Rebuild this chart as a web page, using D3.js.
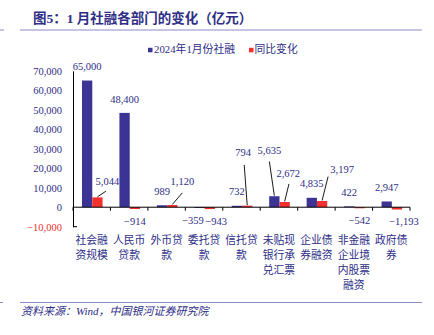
<!DOCTYPE html>
<html>
<head>
<meta charset="utf-8">
<script src="https://cdn.jsdelivr.net/npm/d3@7/dist/d3.min.js"></script>
<style>
  html, body { margin: 0; padding: 0; background: #ffffff; }
  svg { display: block; }
</style>
</head>
<body>
<svg id="chart" width="434" height="335"></svg>
<script>
// Categories (multi-line labels) and the two series, in 亿元
const categories = [
  ["社会融", "资规模"],
  ["人民币", "贷款"],
  ["外币贷", "款"],
  ["委托贷", "款"],
  ["信托贷", "款"],
  ["未贴现", "银行承", "兑汇票"],
  ["企业债", "券融资"],
  ["非金融", "企业境", "内股票", "融资"],
  ["政府债", "券"]
];
const jan2024 = [65000, 48400, 989, -359, 732, 5635, 4835, 422, 2947];
const yoyChange = [5044, -914, 1120, -943, 794, 2672, 3197, -542, -1193];
const seriesNames = ["2024年1月份社融", "同比变化"];
const yTicks = [-10000, 0, 10000, 20000, 30000, 40000, 50000, 60000, 70000];

// Label nudges (dx, dy) and leader-line starts for crowded value labels
const blueLabelShift = [
  null, null, null,
  { dx: -6.5, dy: 0 },
  null,
  { dx: -5, dy: -32, lead: [0, 10] },
  null, null, null
];
const redLabelShift = [
  { dx: 10, dy: -2, lead: [-1.5, 8.5] },
  null,
  { dx: 10, dy: -9.5, lead: [0, 10] },
  { dx: 6.5, dy: 0 },
  { dx: -4, dy: -39, lead: [1, 11] },
  { dx: 3.6, dy: -14.4, lead: [0.7, 9] },
  { dx: 20, dy: -17.4, lead: [-14, 5.7] },
  null,
  { dx: 7, dy: 0 }
];

const NAVY = "#2e2e86";
const BLUE = "#3b3494";
const RED = "#f2302e";
const RULE = "#8c8cc8";
const SERIF = "'Liberation Serif','Times New Roman','Noto Sans CJK SC',serif";
const CJK = "'Liberation Serif','Noto Sans CJK SC',sans-serif";

const svg = d3.select("#chart");

// Title and rules
svg.append("text")
  .attr("x", 33).attr("y", 20)
  .attr("dominant-baseline", "middle")
  .attr("font-family", CJK).attr("font-size", 13.5).attr("font-weight", "bold")
  .attr("fill", NAVY)
  .text("图5：1 月社融各部门的变化（亿元）");
svg.append("line").attr("x1", 20).attr("x2", 422).attr("y1", 30).attr("y2", 30)
  .attr("stroke", RULE).attr("stroke-width", 1);
svg.append("line").attr("x1", 0).attr("x2", 4).attr("y1", 30).attr("y2", 30)
  .attr("stroke", RULE).attr("stroke-width", 1);
svg.append("line").attr("x1", 20).attr("x2", 422).attr("y1", 302.5).attr("y2", 302.5)
  .attr("stroke", RULE).attr("stroke-width", 1);
svg.append("line").attr("x1", 0).attr("x2", 3).attr("y1", 302.5).attr("y2", 302.5)
  .attr("stroke", RULE).attr("stroke-width", 1);
svg.append("text")
  .attr("x", 21).attr("y", 312)
  .attr("dominant-baseline", "middle")
  .attr("font-family", SERIF).attr("font-size", 11).attr("font-style", "italic")
  .attr("fill", NAVY)
  .text("资料来源：Wind，中国银河证券研究院");

// Scales
const plotLeft = 73, plotRight = 410;
const y = d3.scaleLinear().domain([-10000, 70000]).range([226.7, 70.8]);
const x = d3.scaleBand().domain(d3.range(categories.length)).range([plotLeft, plotRight]).padding(0);
const bw = x.bandwidth();
const inner = d3.scaleBand().domain([0, 1]).range([0.24 * bw, 0.79 * bw]).padding(0);
const fmt = d3.format(",");

// Y axis
const yAxis = d3.axisLeft(y).tickValues(yTicks).tickSize(0).tickPadding(11).tickFormat(fmt);
const gy = svg.append("g").attr("transform", `translate(${plotLeft},0)`).call(yAxis);
gy.select(".domain").attr("stroke", "#000").attr("stroke-width", 1);
gy.selectAll(".tick text")
  .attr("font-family", SERIF).attr("font-size", 10.5)
  .attr("fill", d => d < 0 ? RED : NAVY);
svg.append("line")
  .attr("x1", plotLeft).attr("x2", plotLeft + 4)
  .attr("y1", y(-10000)).attr("y2", y(-10000))
  .attr("stroke", "#000").attr("stroke-width", 1);

// Bars
const series = [jan2024, yoyChange];
const colors = [BLUE, RED];
series.forEach((vals, s) => {
  svg.append("g").selectAll("rect")
    .data(vals)
    .join("rect")
    .attr("x", (d, i) => x(i) + inner(s))
    .attr("width", inner.bandwidth())
    .attr("y", d => y(Math.max(0, d)))
    .attr("height", d => Math.max(0.8, Math.abs(y(d) - y(0))))
    .attr("fill", colors[s]);
});

// X axis with boundary ticks
svg.append("line")
  .attr("x1", plotLeft).attr("x2", plotRight)
  .attr("y1", y(0)).attr("y2", y(0))
  .attr("stroke", "#000").attr("stroke-width", 1);
d3.range(categories.length + 1).forEach(i => {
  const xx = plotLeft + i * bw;
  svg.append("line")
    .attr("x1", xx).attr("x2", xx)
    .attr("y1", y(0)).attr("y2", y(0) + 3.5)
    .attr("stroke", "#000").attr("stroke-width", 1);
});

// Category labels
categories.forEach((lines, i) => {
  const t = svg.append("text")
    .attr("text-anchor", "middle")
    .attr("font-family", CJK).attr("font-size", 10.8)
    .attr("fill", NAVY);
  lines.forEach((ln, k) => {
    t.append("tspan")
      .attr("x", x(i) + bw / 2)
      .attr("y", 241.7 + k * 15)
      .attr("dominant-baseline", "middle")
      .text(ln);
  });
});

// Value labels with leader lines
const shifts = [blueLabelShift, redLabelShift];
series.forEach((vals, s) => {
  vals.forEach((v, i) => {
    const cx = x(i) + inner(s) + inner.bandwidth() / 2;
    const top = y(Math.max(0, v));
    const bottom = y(Math.min(0, v));
    let lx = cx, ly = v >= 0 ? top - 12.7 : bottom + 13.5;
    const sh = shifts[s][i];
    if (sh) {
      lx += sh.dx; ly += sh.dy;
      if (sh.lead) {
        svg.append("line")
          .attr("x1", lx + sh.lead[0]).attr("y1", ly + sh.lead[1])
          .attr("x2", cx).attr("y2", top - 0.5)
          .attr("stroke", "#000").attr("stroke-width", 0.9);
      }
    }
    svg.append("text")
      .attr("x", lx).attr("y", ly)
      .attr("text-anchor", "middle")
      .attr("dominant-baseline", "middle")
      .attr("font-family", SERIF).attr("font-size", 10.5)
      .attr("fill", NAVY)
      .text(fmt(v));
  });
});

// Legend
const legendItems = [{ x: 148, tx: 154 }, { x: 249, tx: 254.5 }];
legendItems.forEach((it, s) => {
  svg.append("rect")
    .attr("x", it.x).attr("y", 47.8).attr("width", 4.5).attr("height", 4.5)
    .attr("fill", colors[s]);
  svg.append("text")
    .attr("x", it.tx).attr("y", 50.3)
    .attr("dominant-baseline", "middle")
    .attr("font-family", CJK).attr("font-size", 10.8)
    .attr("fill", NAVY)
    .text(seriesNames[s]);
});
</script>
</body>
</html>
